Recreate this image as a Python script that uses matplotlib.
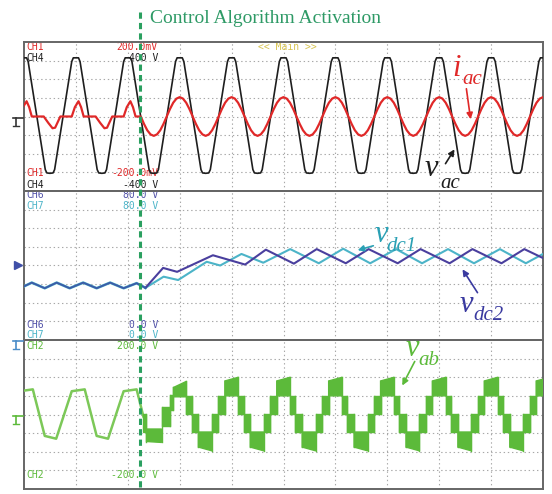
import numpy as np
import matplotlib
matplotlib.use('Agg')
import matplotlib.pyplot as plt
from matplotlib.lines import Line2D

plt.rcParams['lines.scale_dashes'] = False

# ------------------------------------------------------------------ data
# time axis in scope divisions (0..10), amplitudes in vertical divisions
t_activation = 2.24

# v_ac : one cycle shape (phase relative to each peak), repeated per cycle
vac_phase = [-0.5, -0.44, -0.41, -0.08, -0.05, 0.05, 0.08, 0.41, 0.44]
vac_value = [-3.05, -3.03, -2.85, 2.95, 3.15, 3.15, 2.95, -2.85, -3.03]
vac_cycles = list(range(0, 12))

# i_ac before activation (bumps around zero)
iac_pre_phase = [-0.08, -0.02, 0.05, 0.10, 0.15, 0.38, 0.47, 0.55, 0.60, 0.70]
iac_pre_value = [0.0, 0.50, 0.82, 0.50, 0.0, 0.0, -0.35, -0.63, -0.60, 0.0]
iac_pre_cycles = [0, 1, 2]
# i_ac after activation (sinusoidal, in phase with v_ac)
iac_post_phase = [i / 16 for i in range(16)]
iac_post_value = [1.04, 0.96, 0.74, 0.40, 0.0, -0.40, -0.74, -0.96,
                  -1.04, -0.96, -0.74, -0.40, 0.0, 0.40, 0.74, 0.96]
iac_post_cycles = list(range(2, 11))

# v_dc1 / v_dc2
vdc_pre_x = [0.0, 0.15, 0.40, 0.63, 0.88, 1.14, 1.40, 1.66, 1.92, 2.17, 2.34]
vdc_pre_y = [-1.12, -0.92, -1.22, -0.92, -1.22, -0.92, -1.22, -0.92, -1.22, -0.95, -1.20]
vdc1_x = [2.34, 2.69, 2.97, 3.52, 3.78, 4.19, 4.61, 5.13, 5.68, 6.15, 6.67, 7.17,
          7.67, 8.17, 8.67, 9.17, 9.67, 10.0]
vdc1_y = [-1.20, -0.60, -0.78, 0.20, 0.0, 0.62, 0.15, 0.88, 0.12, 0.90, 0.12, 0.88,
          0.12, 0.88, 0.12, 0.88, 0.12, 0.62]
vdc2_x = [2.34, 2.68, 2.95, 3.64, 4.26, 4.66, 5.20, 5.64, 6.20, 6.64,
          7.20, 7.64, 8.20, 8.64, 9.20, 9.64, 10.0]
vdc2_y = [-1.20, -0.13, -0.34, 0.55, 0.05, 0.85, 0.10, 0.88, 0.12, 0.88,
          0.12, 0.88, 0.12, 0.88, 0.12, 0.88, 0.40]

# v_ab before activation
vab_pre_phase = [-0.08, 0.17, 0.40, 0.62]
vab_pre_value = [1.25, 1.35, -1.15, -1.30]
vab_pre_cycles = [0, 1, 2]
vab_transition_x = [2.17, 2.30]
vab_transition_y = [1.35, -0.10]

# v_ab after activation: multilevel PWM bands (first partial cycle)
vab_first_start = [2.30, 2.36, 2.65, 2.81, 2.88]
vab_first_end = [2.36, 2.65, 2.81, 2.88, 3.13]
vab_first_lo_a = [-0.94, -1.45, -0.60, 0.23, 0.95]
vab_first_lo_b = [-0.94, -1.50, -0.60, 0.23, 0.95]
vab_first_hi_a = [0.05, -0.78, 0.40, 1.04, 1.45]
vab_first_hi_b = [0.05, -0.78, 0.40, 1.04, 1.78]
# steady-state cycle of bands (phase relative to cycle)
vab_band_start = [0.13, 0.23, 0.36, 0.62, 0.74, 0.87]
vab_band_end = [0.23, 0.36, 0.62, 0.74, 0.87, 1.13]
vab_band_lo_a = [0.05, -0.94, -1.75, -0.94, 0.05, 1.00]
vab_band_lo_b = [0.05, -0.94, -1.95, -0.94, 0.05, 1.00]
vab_band_hi_a = [1.00, 0.05, -0.94, 0.05, 1.00, 1.80]
vab_band_hi_b = [1.00, 0.05, -0.94, 0.05, 1.00, 2.00]
vab_band_cycles = list(range(3, 10))

# ------------------------------------------------------------------ helpers
def tile(phases, values, cycles):
    xs, ys = [], []
    for k in cycles:
        for p, v in zip(phases, values):
            xs.append(k + p)
            ys.append(v)
    return np.array(xs), np.array(ys)

W, H = 552, 494
fig = plt.figure(figsize=(W / 100, H / 100), dpi=100)
fig.patch.set_facecolor('white')

def F(x, y):
    return (x / W, 1 - y / H)

RED = '#e02828'
BLACK = '#1e1e1e'
DARKB = '#4a3f9e'
CYAN = '#4cb4c8'
GREEN = '#5cba3a'
GREEN_L = '#7cc858'
ACT = '#2aa060'
GRID = '#a8a8a8'
MONO = 'DejaVu Sans Mono'
SERIF = 'Liberation Serif'

def make_ax(top, bottom):
    ax = fig.add_axes([24 / W, 1 - bottom / H, 519 / W, (bottom - top) / H])
    ax.set_xlim(0, 10)
    ax.set_ylim(-4, 4)
    ax.set_xticks([])
    ax.set_yticks([])
    for x in range(1, 10):
        ax.axvline(x, color=GRID, lw=0.8, ls=(0, (1, 2)), zorder=0)
    for y in range(-3, 4):
        ax.axhline(y, color=GRID, lw=0.8, ls=(0, (1, 2)), zorder=0)
    for s in ax.spines.values():
        s.set_color('#666666')
        s.set_linewidth(1.4)
    ax.patch.set_alpha(0)
    return ax

ax1 = make_ax(42, 191)
ax2 = make_ax(191, 340)
ax3 = make_ax(340, 489)

# ------------------------------------------------------------------ panel 1
x, y = tile(vac_phase, vac_value, vac_cycles)
ax1.plot(x, y, color=BLACK, lw=1.2, zorder=3)
xp, yp = tile(iac_pre_phase, iac_pre_value, iac_pre_cycles)
m = xp <= 2.2
xq, yq = tile(iac_post_phase, iac_post_value, iac_post_cycles)
n = xq >= 2.25
ax1.plot(np.concatenate([xp[m], xq[n]]), np.concatenate([yp[m], yq[n]]),
         color=RED, lw=1.6, zorder=4)

tk = dict(fontsize=7, family=MONO, va='center', zorder=1)
ax1.text(0.04, 3.72, 'CH1', color=RED, ha='left', **tk)
ax1.text(2.58, 3.72, '200.0mV', color=RED, ha='right', **tk)
ax1.text(0.04, 3.12, 'CH4', color=BLACK, ha='left', **tk)
ax1.text(2.58, 3.12, '400 V', color=BLACK, ha='right', **tk)
ax1.text(4.5, 3.72, '<< Main >>', color='#d8c450', ha='left', **tk)
ax1.text(0.04, -3.02, 'CH1', color=RED, ha='left', **tk)
ax1.text(2.58, -3.02, '-200.0mV', color=RED, ha='right', **tk)
ax1.text(0.04, -3.68, 'CH4', color=BLACK, ha='left', **tk)
ax1.text(2.58, -3.68, '-400 V', color=BLACK, ha='right', **tk)

# ------------------------------------------------------------------ panel 2
ax2.plot(vdc1_x, vdc1_y, color=CYAN, lw=1.5, zorder=3)
ax2.plot(vdc_pre_x, vdc_pre_y, color=CYAN, lw=1.9, zorder=3)
ax2.plot(vdc2_x, vdc2_y, color=DARKB, lw=1.5, zorder=4)
ax2.plot(vdc_pre_x, vdc_pre_y, color='#3c5aa8', lw=1.3, zorder=4)

ax2.text(0.04, 3.78, 'CH6', color='#5050a8', ha='left', **tk)
ax2.text(2.58, 3.78, '80.0 V', color='#5050a8', ha='right', **tk)
ax2.text(0.04, 3.2, 'CH7', color=CYAN, ha='left', **tk)
ax2.text(2.58, 3.2, '80.0 V', color=CYAN, ha='right', **tk)
ax2.text(0.04, -3.2, 'CH6', color='#5050a8', ha='left', **tk)
ax2.text(2.58, -3.2, '0.0 V', color='#5050a8', ha='right', **tk)
ax2.text(0.04, -3.75, 'CH7', color=CYAN, ha='left', **tk)
ax2.text(2.58, -3.75, '0.0 V', color=CYAN, ha='right', **tk)

# ------------------------------------------------------------------ panel 3
xv, yv = tile(vab_pre_phase, vab_pre_value, vab_pre_cycles)
m = xv <= 2.17
ax3.plot(np.concatenate([xv[m], vab_transition_x]),
         np.concatenate([yv[m], vab_transition_y]), color=GREEN_L, lw=1.8, zorder=3)

bands = []
for i in range(len(vab_first_start)):
    bands.append((vab_first_start[i], vab_first_end[i], vab_first_lo_a[i],
                  vab_first_lo_b[i], vab_first_hi_a[i], vab_first_hi_b[i]))
for k in vab_band_cycles:
    for i in range(len(vab_band_start)):
        bands.append((k + vab_band_start[i], k + vab_band_end[i], vab_band_lo_a[i],
                      vab_band_lo_b[i], vab_band_hi_a[i], vab_band_hi_b[i]))

prev = None
for (x0, x1, l0, l1, h0, h1) in bands:
    ax3.fill([x0, x1, x1, x0], [l0, l1, h1, h0], facecolor=GREEN,
             edgecolor=GREEN, lw=1.0, zorder=3)
    if prev is not None:
        lo = min(l0, prev[0])
        hi = max(h0, prev[1])
        ax3.plot([x0, x0], [lo, hi], color=GREEN, lw=1.0, zorder=3)
    prev = (l1, h1)

ax3.text(0.04, 3.68, 'CH2', color=GREEN, ha='left', **tk)
ax3.text(2.58, 3.68, '200.0 V', color=GREEN, ha='right', **tk)
ax3.text(0.04, -3.25, 'CH2', color=GREEN, ha='left', **tk)
ax3.text(2.58, -3.25, '-200.0 V', color=GREEN, ha='right', **tk)

# ------------------------------------------------------------------ markers
def gnd(yp_, color):
    fig.add_artist(Line2D([F(13, 0)[0], F(23, 0)[0]], [F(0, yp_)[1]] * 2,
                          transform=fig.transFigure, color=color, lw=1.2))
    fig.add_artist(Line2D([F(16, 0)[0]] * 2, [F(0, yp_)[1], F(0, yp_ + 8)[1]],
                          transform=fig.transFigure, color=color, lw=1.2))
    fig.add_artist(Line2D([F(13, 0)[0], F(19, 0)[0]], [F(0, yp_ + 8)[1]] * 2,
                          transform=fig.transFigure, color=color, lw=1.0))

gnd(118, '#333333')
gnd(341, '#4a8cc8')
gnd(416, GREEN)
fig.add_artist(Line2D([F(18, 0)[0]], [F(0, 265)[1]], transform=fig.transFigure,
                      marker='>', markersize=6, color='#4050a8', lw=0))

# ------------------------------------------------------------------ activation line
fig.add_artist(Line2D([F(140, 0)[0]] * 2, [F(0, 12)[1], F(0, 489)[1]],
                      transform=fig.transFigure, color=ACT, lw=2.2,
                      dashes=[4.5, 3.0], zorder=10))
fig.text(*F(150, 23), 'Control Algorithm Activation', color='#2e9a66',
         fontsize=14, family=SERIF, ha='left', va='baseline')

# ------------------------------------------------------------------ labels
def lab(xv_, yv_, xs_, ys_, main, sub, color, tail, head):
    fig.text(*F(xv_, yv_), main, color=color, fontsize=22, family=SERIF,
             style='italic', ha='left', va='baseline', zorder=11)
    fig.text(*F(xs_, ys_), sub, color=color, fontsize=15, family=SERIF,
             style='italic', ha='left', va='baseline', zorder=11)
    fig.add_artist(matplotlib.patches.FancyArrowPatch(
        F(*tail), F(*head), transform=fig.transFigure, arrowstyle='-|>',
        mutation_scale=9, color=color, lw=1.2, zorder=11))

lab(452, 76, 462, 84, 'i', 'ac', RED, (466, 86), (471, 122))
lab(425, 176, 440, 188, 'v', 'ac', BLACK, (444, 166), (456, 147))
lab(375, 242, 386, 251, 'v', 'dc1', '#2aa0b4', (376, 245), (355, 251))
lab(460, 312, 473, 320, 'v', 'dc2', '#3a3aa0', (479, 295), (461, 267))
lab(406, 356, 418, 365, 'v', 'ab', GREEN, (416, 359), (401, 388))

fig.savefig('out.png', dpi=100, facecolor='white')
